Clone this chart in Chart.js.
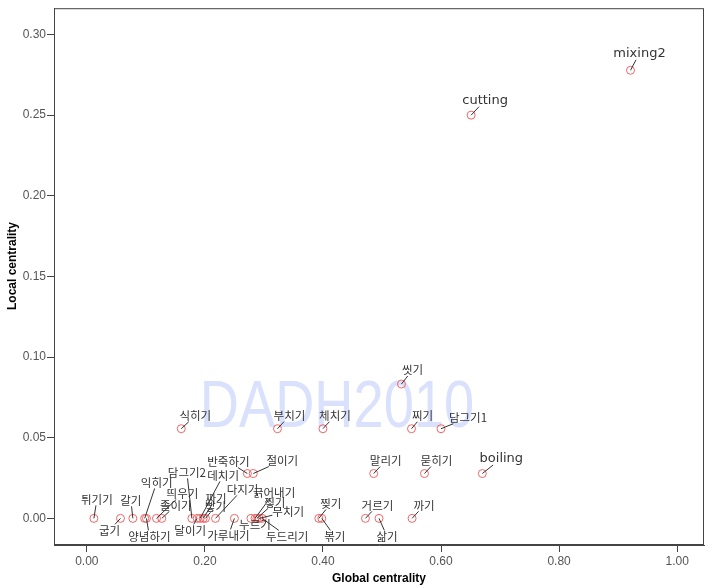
<!DOCTYPE html>
<html>
<head>
<meta charset="utf-8">
<script src="https://cdn.jsdelivr.net/npm/chart.js@4"></script>
<style>
  html, body { margin: 0; padding: 0; background: #fff; }
  #wrap { width: 709px; height: 585px; }
</style>
</head>
<body>
<div id="wrap"><canvas id="myChart" width="709" height="585"></canvas></div>
<script>
// ----- datos del grafico -----
const names = [
  "mixing2", "cutting", "씻기",
  "식히기", "부치기", "체치기", "찌기", "담그기1",
  "반죽하기", "절이기", "말리기", "묻히기", "boiling",
  "튀기기", "굽기", "갈기", "익히기", "양념하기", "띄우기", "졸이기",
  "담그기2", "달이기", "데치기", "짜기", "빻기", "다지기", "가루내기",
  "누르기", "긁어내기", "찧기", "무치기", "두드리기",
  "찢기", "볶기", "거르기", "삶기", "까기"
];
const globalCentrality = [
  0.921, 0.651, 0.533,
  0.160, 0.323, 0.400, 0.550, 0.600,
  0.272, 0.282, 0.486, 0.572, 0.670,
  0.012, 0.057, 0.078, 0.098, 0.101, 0.118, 0.127,
  0.178, 0.187, 0.192, 0.197, 0.201, 0.218, 0.250,
  0.278, 0.285, 0.288, 0.292, 0.297,
  0.393, 0.398, 0.472, 0.495, 0.551
];
const localCentrality = [
  0.2778, 0.25, 0.0833,
  0.0556, 0.0556, 0.0556, 0.0556, 0.0556,
  0.0278, 0.0278, 0.0278, 0.0278, 0.0278,
  0, 0, 0, 0, 0, 0, 0,
  0, 0, 0, 0, 0, 0, 0,
  0, 0, 0, 0, 0,
  0, 0, 0, 0, 0
];
const xTicks = [0, 0.2, 0.4, 0.6, 0.8, 1.0];
const yTicks = [0, 0.05, 0.10, 0.15, 0.20, 0.25, 0.30];

// desplazamiento de cada etiqueta (px) respecto a su punto
const labelOffsets = [
  [9, -17], [14, -15], [11, -14],
  [14, -13], [12, -13], [12, -13], [11, -13], [27, -11],
  [-19, -12], [29, -13], [12, -13], [12, -13], [19, -15],
  [3, -19], [-11, 12], [-2, -18], [12, -36], [3, 18], [26, -25], [14, -13],
  [-5, -46], [-7, 12], [23, -43], [13, -20], [10, -12], [27, -29], [-6, 17],
  [4, 6], [19, -26], [18, -16], [29, -7], [25, 18],
  [12, -15], [13, 18], [12, -13], [8, 18], [12, -13]
];

const points = globalCentrality.map((x, i) => ({ x, y: localCentrality[i] }));

// Plugin: marca de agua, marco, etiquetas y titulos de ejes
const extras = {
  id: "extras",
  beforeDatasetsDraw(chart) {
    const ctx = chart.ctx;
    const a = chart.chartArea;
    ctx.save();
    ctx.translate(337, 409);
    ctx.scale(0.81, 1);
    ctx.font = "67px 'Liberation Sans', Arial, sans-serif";
    ctx.fillStyle = "rgba(185,200,250,0.55)";
    ctx.textAlign = "center";
    ctx.textBaseline = "middle";
    ctx.fillText("DADH2010", 0, 0);
    ctx.restore();

    ctx.save();
    ctx.strokeStyle = "#444";
    ctx.lineWidth = 1;
    ctx.strokeRect(a.left + 0.5, a.top + 0.5, a.right - a.left - 1, a.bottom - a.top - 1);
    ctx.restore();
  },
  afterDatasetsDraw(chart) {
    const ctx = chart.ctx;
    const meta = chart.getDatasetMeta(0);
    ctx.save();
    ctx.textAlign = "center";
    ctx.textBaseline = "middle";
    meta.data.forEach((pt, i) => {
      const label = names[i];
      const latin = /^[a-z0-9]+$/i.test(label);
      ctx.font = latin ? "13px 'DejaVu Sans', sans-serif" : "11.5px 'Noto Sans CJK KR', sans-serif";
      const w = ctx.measureText(label).width;
      const h = latin ? 13 : 12;
      const dx = labelOffsets[i][0];
      const dy = labelOffsets[i][1];
      const cx = pt.x + dx;
      const cy = pt.y + dy;
      // linea guia hacia el centro de la etiqueta, cortada en su borde
      const inside = Math.abs(dx) <= w / 2 && Math.abs(dy) <= h / 2;
      if (!inside) {
        const t = Math.min(
          dx !== 0 ? (Math.abs(dx) - w / 2) / Math.abs(dx) : 1,
          dy !== 0 ? (Math.abs(dy) - h / 2) / Math.abs(dy) : 1
        );
        const s = Math.max(
          dx !== 0 ? (Math.abs(dx) - w / 2) / Math.abs(dx) : 0,
          dy !== 0 ? (Math.abs(dy) - h / 2) / Math.abs(dy) : 0
        );
        if (s * Math.hypot(dx, dy) > 3) {
          ctx.strokeStyle = "#333";
          ctx.lineWidth = 1;
          ctx.beginPath();
          ctx.moveTo(pt.x, pt.y);
          ctx.lineTo(pt.x + dx * s, pt.y + dy * s);
          ctx.stroke();
        }
      }
      ctx.fillStyle = "#333";
      ctx.fillText(label, cx, cy);
    });
    ctx.restore();
  },
  afterDraw(chart) {
    const ctx = chart.ctx;
    const a = chart.chartArea;
    ctx.save();
    ctx.fillStyle = "#000";
    ctx.font = "bold 12px 'Liberation Sans', Arial, sans-serif";
    ctx.textAlign = "center";
    ctx.textBaseline = "middle";
    ctx.fillText("Global centrality", (a.left + a.right) / 2, 579);
    ctx.translate(13, 266);
    ctx.rotate(-Math.PI / 2);
    ctx.fillText("Local centrality", 0, 0);
    ctx.restore();
  }
};

const tickFont = { family: "'Liberation Sans', Arial, sans-serif", size: 12 };

new Chart(document.querySelector("#myChart"), {
  type: "scatter",
  data: {
    datasets: [{
      data: points,
      pointStyle: "circle",
      pointRadius: 4,
      pointHoverRadius: 4,
      pointBorderColor: "#f06565",
      pointBackgroundColor: "rgba(0,0,0,0)",
      pointBorderWidth: 1
    }]
  },
  options: {
    responsive: false,
    animation: false,
    layout: { padding: { top: 7, right: 2, left: 0, bottom: 0 } },
    plugins: { legend: { display: false }, tooltip: { enabled: false } },
    scales: {
      x: {
        type: "linear",
        min: -0.0556,
        max: 1.0455,
        afterBuildTicks: (scale) => { scale.ticks = xTicks.map(v => ({ value: v })); },
        afterFit: (scale) => { scale.height = 40; },
        grid: { drawOnChartArea: false, drawTicks: true, tickLength: 7, tickColor: "#444" },
        border: { display: true, color: "#444" },
        ticks: { color: "#555", font: tickFont, padding: 2, maxRotation: 0,
          callback: (v) => Number(v).toFixed(2) }
      },
      y: {
        type: "linear",
        min: -0.0165,
        max: 0.3163,
        afterBuildTicks: (scale) => { scale.ticks = yTicks.map(v => ({ value: v })); },
        afterFit: (scale) => { scale.width = 54; },
        grid: { drawOnChartArea: false, drawTicks: true, tickLength: 7, tickColor: "#444" },
        border: { display: true, color: "#444" },
        ticks: { color: "#555", font: tickFont, padding: 1,
          callback: (v) => Number(v).toFixed(2) }
      }
    }
  },
  plugins: [extras]
});
</script>
</body>
</html>
